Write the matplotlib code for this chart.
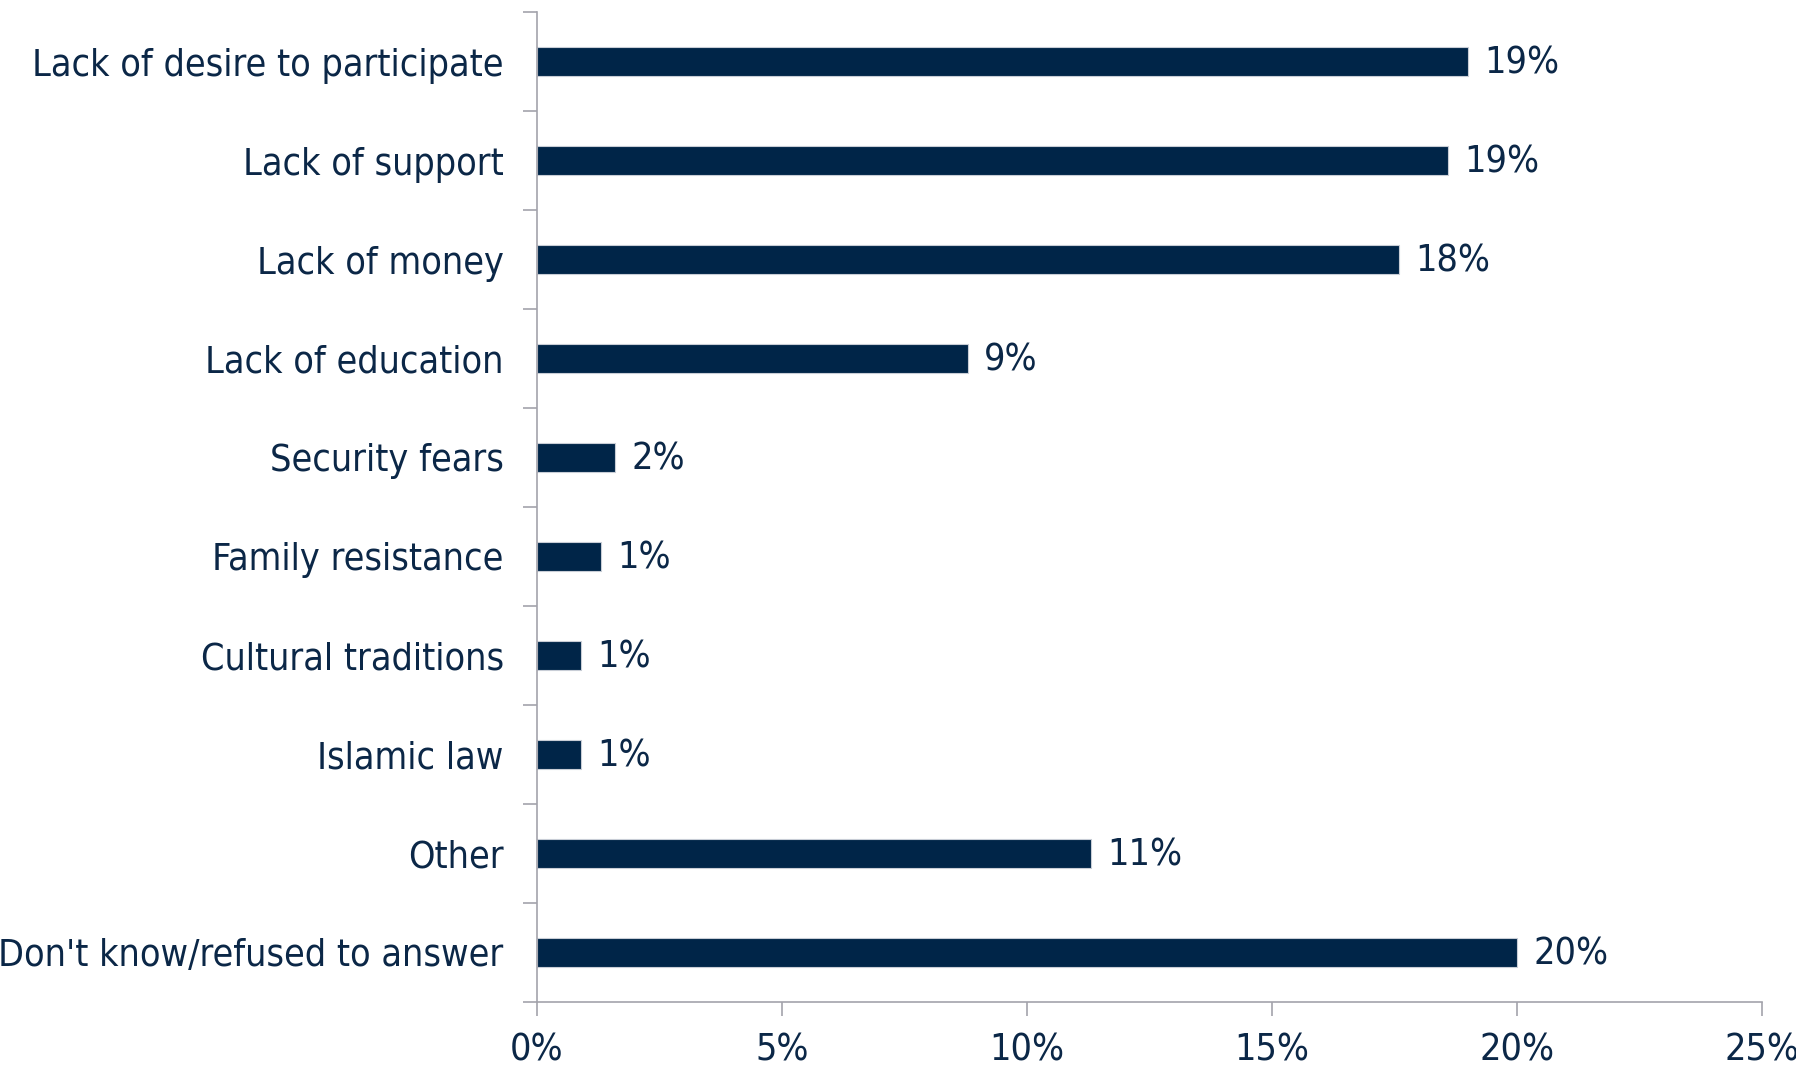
import numpy as np
from matplotlib import pyplot as plt
from matplotlib.ticker import FixedLocator, PercentFormatter

categories = ["Lack of desire to participate", "Lack of support", "Lack of money",
              "Lack of education", "Security fears", "Family resistance",
              "Cultural traditions", "Islamic law", "Other",
              "Don't know/refused to answer"]
values = [19.0, 18.6, 17.6, 8.8, 1.6, 1.3, 0.9, 0.9, 11.3, 20.0]
labels = ["19%", "19%", "18%", "9%", "2%", "1%", "1%", "1%", "11%", "20%"]

NAVY = "#002548"
TEXT = "#0b2747"
AXIS = "#a3a3ab"
FS = 27

plt.rcParams["font.family"] = ["DejaVu Sans"]
plt.rcParams["font.stretch"] = "condensed"

fig = plt.figure(figsize=(17.96, 10.65), dpi=100)
ax = fig.add_axes([0.299, 0.0592, 0.682, 0.9295])

y = np.arange(len(categories))
bars = ax.barh(y, values, height=0.29, color=NAVY, edgecolor="#c8cdd6", linewidth=0.8)

for bar, lab in zip(bars, labels):
    ax.text(bar.get_width() + 0.33, bar.get_y() + bar.get_height() / 2 + 0.02, lab,
            va="center", ha="left", fontsize=FS, color=TEXT)

ax.set_ylim(len(categories) - 0.5, -0.5)
ax.set_xlim(0, 25)

ax.set_yticks(y)
ax.set_yticklabels(categories)
ax.yaxis.set_minor_locator(FixedLocator(np.arange(-0.5, len(categories), 1.0)))
ax.tick_params(axis="y", which="major", length=0, pad=24, labelsize=FS, labelcolor=TEXT)
ax.tick_params(axis="y", which="minor", length=10, color=AXIS, width=1.2)

ax.set_xticks(np.arange(0, 26, 5))
ax.xaxis.set_major_formatter(PercentFormatter(decimals=0))
ax.tick_params(axis="x", length=10, color=AXIS, width=1.2, pad=12,
               labelsize=FS, labelcolor=TEXT)

for side in ("top", "right"):
    ax.spines[side].set_visible(False)
for side in ("left", "bottom"):
    ax.spines[side].set_color(AXIS)
    ax.spines[side].set_linewidth(1.2)

fig.savefig("out.png", dpi=100)
